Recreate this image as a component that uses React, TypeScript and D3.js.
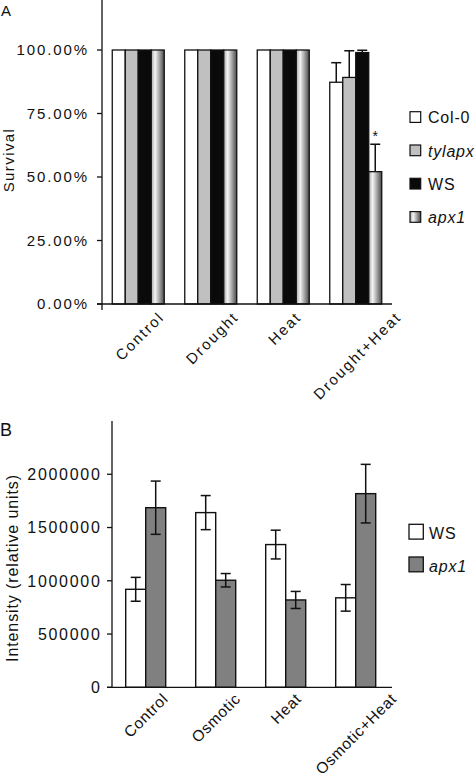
import React from "react";
import * as d3 from "d3";

// ---------- Panel A data ----------
const survCats = ["Control", "Drought", "Heat", "Drought+Heat"];
const survSeries = ["Col-0", "tylapx", "WS", "apx1"];
const survCol0 = [1, 1, 1, 0.873];
const survCol0Err = [0, 0, 0, 0.077];
const survTylapx = [1, 1, 1, 0.892];
const survTylapxErr = [0, 0, 0, 0.105];
const survWS = [1, 1, 1, 0.99];
const survWSErr = [0, 0, 0, 0.009];
const survApx1 = [1, 1, 1, 0.521];
const survApx1Err = [0, 0, 0, 0.108];
const survTicks = [0, 0.25, 0.5, 0.75, 1.0];
const survSignif = [false, false, false, true];

// ---------- Panel B data ----------
const intCats = ["Control", "Osmotic", "Heat", "Osmotic+Heat"];
const intSeries = ["WS", "apx1"];
const intWS = [920000, 1640000, 1340000, 840000];
const intWSErr = [112000, 160000, 135000, 125000];
const intApx1 = [1686000, 1005000, 820000, 1818000];
const intApx1Err = [250000, 63000, 80000, 275000];
const intTicks = [0, 500000, 1000000, 1500000, 2000000];

const FONT = "'Liberation Sans', Arial, Helvetica, sans-serif";
const INK = "#111";

let ctx: CanvasRenderingContext2D | null = null;
function textLen(s: string, size: number, ls: number, italic = false) {
  if (!ctx) ctx = document.createElement("canvas").getContext("2d");
  if (!ctx) return s.length * size * 0.55;
  ctx.font = `${italic ? "italic " : ""}${size}px 'Liberation Sans', Arial, sans-serif`;
  return ctx.measureText(s).width + ls * (s.length - 1);
}

function RotLabel({ text, cx, axisY, size, ls, dy }: { text: string; cx: number; axisY: number; size: number; ls: number; dy: number }) {
  const L = textLen(text, size, ls);
  const capH = 0.72 * size;
  const xe = cx + (L + capH) * 0.354;
  const ye = axisY + dy;
  return (
    <text
      transform={`translate(${xe},${ye}) rotate(-45)`}
      textAnchor="end"
      fontSize={size}
      letterSpacing={ls}
      fontFamily={FONT}
      fill={INK}
    >
      {text}
    </text>
  );
}

export default function App() {
  // ---------- Panel A scales ----------
  const aLeft = 102, aRight = 392, aBottom = 304;
  const ax = d3.scaleBand<string>().domain(survCats).range([aLeft, aRight]).paddingInner(0.283).paddingOuter(0.1415);
  const axInner = d3.scaleBand<string>().domain(survSeries).range([0, ax.bandwidth()]);
  const ay = d3.scaleLinear().domain([0, 1.2]).range([aBottom, aBottom - 254 * 1.2]);
  const aVals = [survCol0, survTylapx, survWS, survApx1];
  const aErrs = [survCol0Err, survTylapxErr, survWSErr, survApx1Err];
  const aFills = ["#ffffff", "#c0c0c0", "#0a0a0a", "url(#apxGrad)"];
  const fmtPct = d3.format(".2%");

  // ---------- Panel B scales ----------
  const bLeft = 112, bRight = 392, bBottom = 687.3;
  const bx = d3.scaleBand<string>().domain(intCats).range([bLeft, bRight]).paddingInner(0.4286).paddingOuter(0.2143);
  const bxInner = d3.scaleBand<string>().domain(intSeries).range([0, bx.bandwidth()]);
  const by = d3.scaleLinear().domain([0, 2500000]).range([bBottom, bBottom - 266.3]);
  const bVals = [intWS, intApx1];
  const bErrs = [intWSErr, intApx1Err];
  const bFills = ["#ffffff", "#808080"];

  return (
    <svg width={475} height={780} style={{ position: "absolute", left: 0, top: 0, background: "#fff" }} fontFamily={FONT}>
      <defs>
        <linearGradient id="apxGrad" x1="0" x2="1" y1="0" y2="0">
          <stop offset="0" stopColor="#a8a8a8" />
          <stop offset="0.3" stopColor="#f4f4f4" />
          <stop offset="1" stopColor="#4a4a4a" />
        </linearGradient>
      </defs>
      <rect x={0} y={0} width={475} height={780} fill="#fff" />

      {/* ================= Panel A ================= */}
      <text x={1} y={16} fontSize={15} fill={INK}>A</text>
      <text transform={`translate(14,160) rotate(-90)`} textAnchor="middle" fontSize={15} letterSpacing={1.4} fill={INK}>Survival</text>

      {survCats.map((c, ci) =>
        survSeries.map((s, si) => {
          const x0 = (ax(c) ?? 0) + (axInner(s) ?? 0);
          const w = axInner.bandwidth();
          const v = aVals[si][ci];
          const e = aErrs[si][ci];
          const cxb = x0 + w / 2;
          return (
            <g key={c + s}>
              <rect x={x0} y={ay(v)} width={w} height={ay(0) - ay(v)} fill={aFills[si]} stroke={INK} strokeWidth={1.3} />
              {e > 0 && (
                <g stroke={INK} strokeWidth={1.5}>
                  <line x1={cxb} x2={cxb} y1={ay(v)} y2={ay(v + e)} />
                  <line x1={cxb - 5} x2={cxb + 5} y1={ay(v + e)} y2={ay(v + e)} />
                </g>
              )}
              {si === 3 && survSignif[ci] && (
                <text x={cxb} y={ay(v + e) - 3} textAnchor="middle" fontSize={14} fill={INK}>*</text>
              )}
            </g>
          );
        })
      )}

      {/* A axes */}
      <line x1={aLeft} x2={aLeft} y1={ay(1.2)} y2={aBottom + 6} stroke={INK} strokeWidth={1.3} />
      <line x1={aLeft - 5} x2={aRight} y1={aBottom} y2={aBottom} stroke={INK} strokeWidth={1.3} />
      {survTicks.map((t) => (
        <g key={t}>
          <line x1={aLeft - 5} x2={aLeft} y1={ay(t)} y2={ay(t)} stroke={INK} strokeWidth={1.3} />
          <text x={89} y={ay(t)} dy="0.36em" textAnchor="end" fontSize={15} letterSpacing={1.9} fill={INK}>
            {fmtPct(t)}
          </text>
        </g>
      ))}
      {survCats.map((c) => (
        <RotLabel key={c} text={c} cx={(ax(c) ?? 0) + ax.bandwidth() / 2 + 2} axisY={aBottom} size={15} ls={1.9} dy={14} />
      ))}

      {/* A legend */}
      {survSeries.map((s, i) => {
        const y0 = 111.7 + i * 33.3;
        return (
          <g key={s}>
            <rect x={410} y={y0} width={10.7} height={10.7} fill={aFills[i]} stroke={INK} strokeWidth={1.2} />
            <text x={428} y={y0 + 11.5} fontSize={16} letterSpacing={0.8} fontStyle={i % 2 === 1 ? "italic" : "normal"} fill={INK}>
              {s}
            </text>
          </g>
        );
      })}

      {/* ================= Panel B ================= */}
      <text x={0} y={436} fontSize={18} fill={INK}>B</text>
      <text transform={`translate(18,568) rotate(-90)`} textAnchor="middle" fontSize={16} letterSpacing={0.9} fill={INK}>
        Intensity (relative units)
      </text>

      {intCats.map((c, ci) =>
        intSeries.map((s, si) => {
          const x0 = (bx(c) ?? 0) + (bxInner(s) ?? 0) - 1.3;
          const w = bxInner.bandwidth();
          const v = bVals[si][ci];
          const e = bErrs[si][ci];
          const cxb = x0 + w / 2;
          return (
            <g key={c + s}>
              <rect x={x0} y={by(v)} width={w} height={by(0) - by(v)} fill={bFills[si]} stroke={INK} strokeWidth={1.4} />
              <g stroke={INK} strokeWidth={1.5}>
                <line x1={cxb} x2={cxb} y1={by(v - e)} y2={by(v + e)} />
                <line x1={cxb - 5} x2={cxb + 5} y1={by(v + e)} y2={by(v + e)} />
                <line x1={cxb - 5} x2={cxb + 5} y1={by(v - e)} y2={by(v - e)} />
              </g>
            </g>
          );
        })
      )}

      {/* B axes */}
      <line x1={bLeft} x2={bLeft} y1={by(2500000)} y2={bBottom} stroke={INK} strokeWidth={1.3} />
      <line x1={bLeft - 5} x2={bRight} y1={bBottom} y2={bBottom} stroke={INK} strokeWidth={1.3} />
      {intTicks.map((t) => (
        <g key={t}>
          <line x1={bLeft - 5} x2={bLeft} y1={by(t)} y2={by(t)} stroke={INK} strokeWidth={1.3} />
          <text x={101.5} y={by(t)} dy="0.36em" textAnchor="end" fontSize={16} letterSpacing={1.7} fill={INK}>
            {String(t)}
          </text>
        </g>
      ))}
      {intCats.map((c) => (
        <RotLabel key={c} text={c} cx={(bx(c) ?? 0) + bx.bandwidth() / 2 - 1} axisY={bBottom} size={15.5} ls={0.7} dy={12.5} />
      ))}

      {/* B legend */}
      {intSeries.map((s, i) => {
        const y0 = 524.3 + i * 32.7;
        return (
          <g key={s}>
            <rect x={409} y={y0} width={14.3} height={14.8} fill={bFills[i]} stroke={INK} strokeWidth={1.3} />
            <text x={429} y={y0 + 14.5} fontSize={16} letterSpacing={0.8} fontStyle={i === 1 ? "italic" : "normal"} fill={INK}>
              {s}
            </text>
          </g>
        );
      })}
    </svg>
  );
}
